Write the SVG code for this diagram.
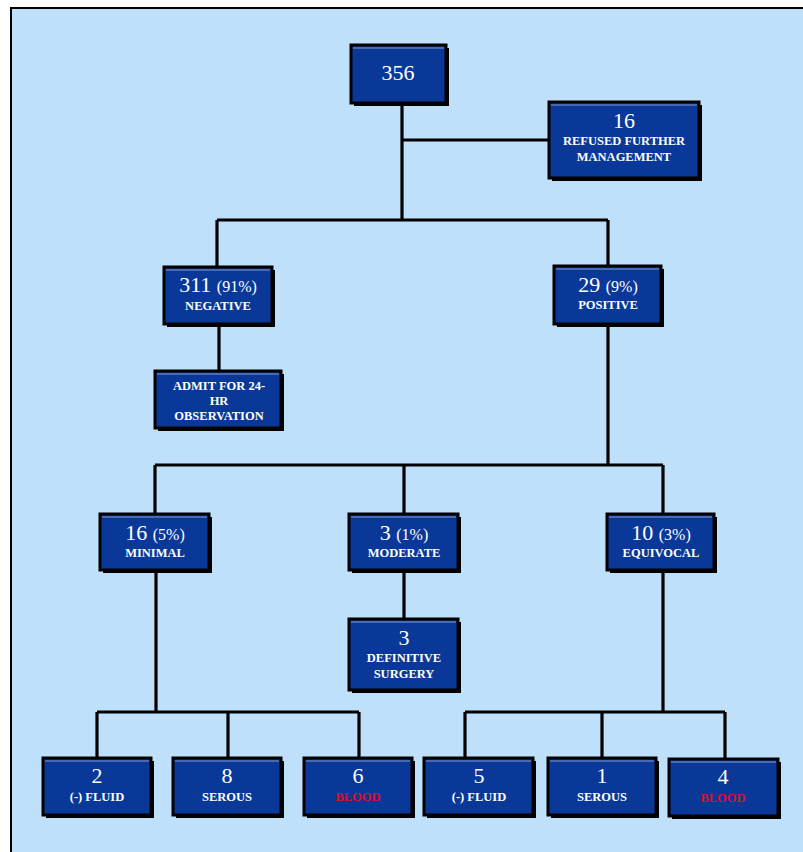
<svg xmlns="http://www.w3.org/2000/svg" width="803" height="852" viewBox="0 0 803 852">
<defs>
<style>
.bg{fill:#bfe0fb;stroke:#000;stroke-width:2}
.sh{fill:#000}
.bx{fill:#0a3898;stroke:#000;stroke-width:3}
.hl{stroke:#8a9cc8;stroke-width:1.2}
.c{fill:none;stroke:#000;stroke-width:3.2}
.n{font-family:"Liberation Serif",serif;font-size:22px;fill:#fff;text-anchor:middle}
.p{font-size:16px}
.l{font-family:"Liberation Serif",serif;font-size:12.5px;fill:#fff;text-anchor:middle;font-weight:bold}
.r{fill:#d8102a}
</style>
</defs>
<rect x="0" y="0" width="803" height="852" fill="#fff"/>
<rect class="bg" x="11" y="8" width="800" height="850"/>
<g id="connectors">
<path class="c" d="M402 104V220M402 140H550M217 220H608M217 220V266M608 220V266"/>
<path class="c" d="M219 326V371"/>
<path class="c" d="M608 326V465M155 465H663M155 465V514M404 465V514M663 465V514"/>
<path class="c" d="M404 572V619"/>
<path class="c" d="M156 572V712M97 712H359M97 712V758M228 712V758M359 712V758"/>
<path class="c" d="M663 572V712M465 712H725M465 712V758M602 712V758M725 712V758"/>
</g>
<g id="n356">
<rect class="sh" x="354" y="48" width="95" height="58"/>
<rect class="bx" x="351" y="45" width="95" height="58"/>
<line class="hl" x1="353" y1="48" x2="444" y2="48"/>
<text class="n" x="398" y="80">356</text>
</g>
<g id="nRefused">
<rect class="sh" x="552" y="105" width="150" height="76"/>
<rect class="bx" x="549" y="102" width="150" height="76"/>
<line class="hl" x1="551" y1="105" x2="697" y2="105"/>
<text class="n" x="624" y="128">16</text>
<text class="l" x="624" y="145">REFUSED FURTHER</text>
<text class="l" x="624" y="161">MANAGEMENT</text>
</g>
<g id="nNegative">
<rect class="sh" x="167" y="270" width="108" height="57"/>
<rect class="bx" x="164" y="267" width="108" height="57"/>
<line class="hl" x1="166" y1="270" x2="270" y2="270"/>
<text class="n" x="218" y="292">311 <tspan class="p">(91%)</tspan></text>
<text class="l" x="218" y="310">NEGATIVE</text>
</g>
<g id="nAdmit">
<rect class="sh" x="158" y="374" width="126" height="57"/>
<rect class="bx" x="155" y="371" width="126" height="57"/>
<line class="hl" x1="157" y1="374" x2="279" y2="374"/>
<text class="l" x="219" y="390">ADMIT FOR 24-</text>
<text class="l" x="219" y="405">HR</text>
<text class="l" x="219" y="420">OBSERVATION</text>
</g>
<g id="nPositive">
<rect class="sh" x="557" y="269" width="107" height="58"/>
<rect class="bx" x="554" y="266" width="107" height="58"/>
<line class="hl" x1="556" y1="269" x2="659" y2="269"/>
<text class="n" x="608" y="292">29 <tspan class="p">(9%)</tspan></text>
<text class="l" x="608" y="309">POSITIVE</text>
</g>
<g id="nMinimal">
<rect class="sh" x="103" y="517" width="109" height="56"/>
<rect class="bx" x="100" y="514" width="109" height="56"/>
<line class="hl" x1="102" y1="517" x2="207" y2="517"/>
<text class="n" x="155" y="540">16 <tspan class="p">(5%)</tspan></text>
<text class="l" x="155" y="557">MINIMAL</text>
</g>
<g id="nModerate">
<rect class="sh" x="352" y="517" width="109" height="56"/>
<rect class="bx" x="349" y="514" width="109" height="56"/>
<line class="hl" x1="351" y1="517" x2="456" y2="517"/>
<text class="n" x="404" y="540">3 <tspan class="p">(1%)</tspan></text>
<text class="l" x="404" y="557">MODERATE</text>
</g>
<g id="nEquivocal">
<rect class="sh" x="610" y="517" width="107" height="56"/>
<rect class="bx" x="607" y="514" width="107" height="56"/>
<line class="hl" x1="609" y1="517" x2="712" y2="517"/>
<text class="n" x="661" y="540">10 <tspan class="p">(3%)</tspan></text>
<text class="l" x="661" y="557">EQUIVOCAL</text>
</g>
<g id="nSurgery">
<rect class="sh" x="352" y="622" width="109" height="71"/>
<rect class="bx" x="349" y="619" width="109" height="71"/>
<line class="hl" x1="351" y1="622" x2="456" y2="622"/>
<text class="n" x="404" y="645">3</text>
<text class="l" x="404" y="662">DEFINITIVE</text>
<text class="l" x="404" y="678">SURGERY</text>
</g>
<g id="nFluid1">
<rect class="sh" x="46" y="761" width="108" height="57"/>
<rect class="bx" x="43" y="758" width="108" height="57"/>
<line class="hl" x1="45" y1="761" x2="149" y2="761"/>
<text class="n" x="97" y="783">2</text>
<text class="l" x="97" y="801">(-) FLUID</text>
</g>
<g id="nSerous1">
<rect class="sh" x="176" y="761" width="108" height="57"/>
<rect class="bx" x="173" y="758" width="108" height="57"/>
<line class="hl" x1="175" y1="761" x2="279" y2="761"/>
<text class="n" x="227" y="783">8</text>
<text class="l" x="227" y="801">SEROUS</text>
</g>
<g id="nBlood1">
<rect class="sh" x="307" y="761" width="108" height="57"/>
<rect class="bx" x="304" y="758" width="108" height="57"/>
<line class="hl" x1="306" y1="761" x2="410" y2="761"/>
<text class="n" x="358" y="783">6</text>
<text class="l r" x="358" y="801">BLOOD</text>
</g>
<g id="nFluid2">
<rect class="sh" x="427" y="761" width="109" height="57"/>
<rect class="bx" x="424" y="758" width="109" height="57"/>
<line class="hl" x1="426" y1="761" x2="531" y2="761"/>
<text class="n" x="479" y="783">5</text>
<text class="l" x="479" y="801">(-) FLUID</text>
</g>
<g id="nSerous2">
<rect class="sh" x="551" y="761" width="108" height="57"/>
<rect class="bx" x="548" y="758" width="108" height="57"/>
<line class="hl" x1="550" y1="761" x2="654" y2="761"/>
<text class="n" x="602" y="783">1</text>
<text class="l" x="602" y="801">SEROUS</text>
</g>
<g id="nBlood2">
<rect class="sh" x="672" y="762" width="109" height="57"/>
<rect class="bx" x="669" y="759" width="109" height="57"/>
<line class="hl" x1="671" y1="762" x2="776" y2="762"/>
<text class="n" x="723" y="784">4</text>
<text class="l r" x="723" y="802">BLOOD</text>
</g>
</svg>
